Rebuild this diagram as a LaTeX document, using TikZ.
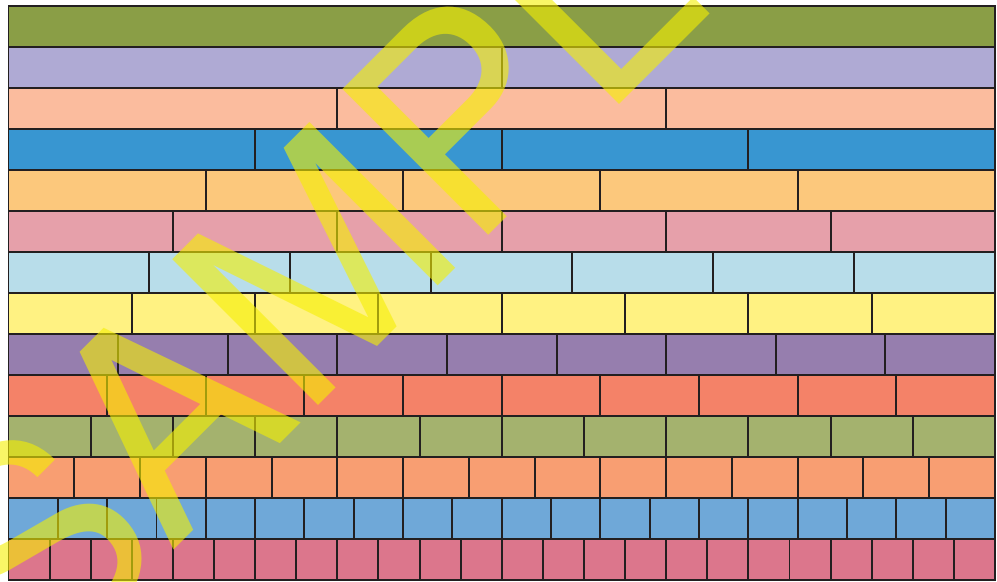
\documentclass[tikz,border=0pt]{standalone}
\usepackage{fontspec}
\newfontfamily\stampfont{TeX Gyre Heros}
\definecolor{wallline}{HTML}{231F20}
\definecolor{frac1}{HTML}{8A9E46}
\definecolor{frac2}{HTML}{AFAAD4}
\definecolor{frac3}{HTML}{FBBC9E}
\definecolor{frac4}{HTML}{3896D1}
\definecolor{frac5}{HTML}{FCC87C}
\definecolor{frac6}{HTML}{E6A0AA}
\definecolor{frac7}{HTML}{B8DDEA}
\definecolor{frac8}{HTML}{FFF282}
\definecolor{frac9}{HTML}{967EAE}
\definecolor{frac10}{HTML}{F48268}
\definecolor{frac12}{HTML}{A4B26E}
\definecolor{frac15}{HTML}{F89E72}
\definecolor{frac20}{HTML}{6FA8D8}
\definecolor{frac24}{HTML}{DC768C}
\definecolor{stampyellow}{HTML}{F5F000}
\tikzset{joint/.style={draw=wallline,line width=1.1pt}}

\begin{document}
\begin{tikzpicture}
\useasboundingbox (-0.17,0.12) rectangle (19.77,-11.50);
\fill[frac1] (0,0.000) rectangle (19.730,-0.820);
\fill[frac2] (0,-0.820) rectangle (19.730,-1.640);
\fill[frac3] (0,-1.640) rectangle (19.730,-2.460);
\fill[frac4] (0,-2.460) rectangle (19.730,-3.280);
\fill[frac5] (0,-3.280) rectangle (19.730,-4.100);
\fill[frac6] (0,-4.100) rectangle (19.730,-4.920);
\fill[frac7] (0,-4.920) rectangle (19.730,-5.740);
\fill[frac8] (0,-5.740) rectangle (19.730,-6.560);
\fill[frac9] (0,-6.560) rectangle (19.730,-7.380);
\fill[frac10] (0,-7.380) rectangle (19.730,-8.200);
\fill[frac12] (0,-8.200) rectangle (19.730,-9.020);
\fill[frac15] (0,-9.020) rectangle (19.730,-9.840);
\fill[frac20] (0,-9.840) rectangle (19.730,-10.660);
\fill[frac24] (0,-10.660) rectangle (19.730,-11.480);
\draw[joint] (9.865,-0.820) -- (9.865,-1.640);
\draw[joint] (6.577,-1.640) -- (6.577,-2.460) (13.153,-1.640) -- (13.153,-2.460);
\draw[joint] (4.933,-2.460) -- (4.933,-3.280) (9.865,-2.460) -- (9.865,-3.280) (14.798,-2.460) -- (14.798,-3.280);
\draw[joint] (3.946,-3.280) -- (3.946,-4.100) (7.892,-3.280) -- (7.892,-4.100) (11.838,-3.280) -- (11.838,-4.100) (15.784,-3.280) -- (15.784,-4.100);
\draw[joint] (3.288,-4.100) -- (3.288,-4.920) (6.577,-4.100) -- (6.577,-4.920) (9.865,-4.100) -- (9.865,-4.920) (13.153,-4.100) -- (13.153,-4.920) (16.442,-4.100) -- (16.442,-4.920);
\draw[joint] (2.819,-4.920) -- (2.819,-5.740) (5.637,-4.920) -- (5.637,-5.740) (8.456,-4.920) -- (8.456,-5.740) (11.274,-4.920) -- (11.274,-5.740) (14.093,-4.920) -- (14.093,-5.740) (16.911,-4.920) -- (16.911,-5.740);
\draw[joint] (2.466,-5.740) -- (2.466,-6.560) (4.933,-5.740) -- (4.933,-6.560) (7.399,-5.740) -- (7.399,-6.560) (9.865,-5.740) -- (9.865,-6.560) (12.331,-5.740) -- (12.331,-6.560) (14.798,-5.740) -- (14.798,-6.560) (17.264,-5.740) -- (17.264,-6.560);
\draw[joint] (2.192,-6.560) -- (2.192,-7.380) (4.384,-6.560) -- (4.384,-7.380) (6.577,-6.560) -- (6.577,-7.380) (8.769,-6.560) -- (8.769,-7.380) (10.961,-6.560) -- (10.961,-7.380) (13.153,-6.560) -- (13.153,-7.380) (15.346,-6.560) -- (15.346,-7.380) (17.538,-6.560) -- (17.538,-7.380);
\draw[joint] (1.973,-7.380) -- (1.973,-8.200) (3.946,-7.380) -- (3.946,-8.200) (5.919,-7.380) -- (5.919,-8.200) (7.892,-7.380) -- (7.892,-8.200) (9.865,-7.380) -- (9.865,-8.200) (11.838,-7.380) -- (11.838,-8.200) (13.811,-7.380) -- (13.811,-8.200) (15.784,-7.380) -- (15.784,-8.200) (17.757,-7.380) -- (17.757,-8.200);
\draw[joint] (1.644,-8.200) -- (1.644,-9.020) (3.288,-8.200) -- (3.288,-9.020) (4.933,-8.200) -- (4.933,-9.020) (6.577,-8.200) -- (6.577,-9.020) (8.221,-8.200) -- (8.221,-9.020) (9.865,-8.200) -- (9.865,-9.020) (11.509,-8.200) -- (11.509,-9.020) (13.153,-8.200) -- (13.153,-9.020) (14.798,-8.200) -- (14.798,-9.020) (16.442,-8.200) -- (16.442,-9.020) (18.086,-8.200) -- (18.086,-9.020);
\draw[joint] (1.315,-9.020) -- (1.315,-9.840) (2.631,-9.020) -- (2.631,-9.840) (3.946,-9.020) -- (3.946,-9.840) (5.261,-9.020) -- (5.261,-9.840) (6.577,-9.020) -- (6.577,-9.840) (7.892,-9.020) -- (7.892,-9.840) (9.207,-9.020) -- (9.207,-9.840) (10.523,-9.020) -- (10.523,-9.840) (11.838,-9.020) -- (11.838,-9.840) (13.153,-9.020) -- (13.153,-9.840) (14.469,-9.020) -- (14.469,-9.840) (15.784,-9.020) -- (15.784,-9.840) (17.099,-9.020) -- (17.099,-9.840) (18.415,-9.020) -- (18.415,-9.840);
\draw[joint] (0.987,-9.840) -- (0.987,-10.660) (1.973,-9.840) -- (1.973,-10.660) (2.960,-9.840) -- (2.960,-10.660) (3.946,-9.840) -- (3.946,-10.660) (4.933,-9.840) -- (4.933,-10.660) (5.919,-9.840) -- (5.919,-10.660) (6.906,-9.840) -- (6.906,-10.660) (7.892,-9.840) -- (7.892,-10.660) (8.879,-9.840) -- (8.879,-10.660) (9.865,-9.840) -- (9.865,-10.660);
\draw[joint] (10.852,-9.840) -- (10.852,-10.660) (11.838,-9.840) -- (11.838,-10.660) (12.825,-9.840) -- (12.825,-10.660) (13.811,-9.840) -- (13.811,-10.660) (14.798,-9.840) -- (14.798,-10.660) (15.784,-9.840) -- (15.784,-10.660) (16.771,-9.840) -- (16.771,-10.660) (17.757,-9.840) -- (17.757,-10.660) (18.744,-9.840) -- (18.744,-10.660);
\draw[joint] (0.822,-10.660) -- (0.822,-11.480) (1.644,-10.660) -- (1.644,-11.480) (2.466,-10.660) -- (2.466,-11.480) (3.288,-10.660) -- (3.288,-11.480) (4.110,-10.660) -- (4.110,-11.480) (4.933,-10.660) -- (4.933,-11.480) (5.755,-10.660) -- (5.755,-11.480) (6.577,-10.660) -- (6.577,-11.480) (7.399,-10.660) -- (7.399,-11.480) (8.221,-10.660) -- (8.221,-11.480) (9.043,-10.660) -- (9.043,-11.480) (9.865,-10.660) -- (9.865,-11.480);
\draw[joint] (10.687,-10.660) -- (10.687,-11.480) (11.509,-10.660) -- (11.509,-11.480) (12.331,-10.660) -- (12.331,-11.480) (13.153,-10.660) -- (13.153,-11.480) (13.975,-10.660) -- (13.975,-11.480) (14.798,-10.660) -- (14.798,-11.480) (15.620,-10.660) -- (15.620,-11.480) (16.442,-10.660) -- (16.442,-11.480) (17.264,-10.660) -- (17.264,-11.480) (18.086,-10.660) -- (18.086,-11.480) (18.908,-10.660) -- (18.908,-11.480);
\draw[joint] (0,-0.820) -- (19.730,-0.820) (0,-1.640) -- (19.730,-1.640) (0,-2.460) -- (19.730,-2.460) (0,-3.280) -- (19.730,-3.280) (0,-4.100) -- (19.730,-4.100) (0,-4.920) -- (19.730,-4.920) (0,-5.740) -- (19.730,-5.740);
\draw[joint] (0,-6.560) -- (19.730,-6.560) (0,-7.380) -- (19.730,-7.380) (0,-8.200) -- (19.730,-8.200) (0,-9.020) -- (19.730,-9.020) (0,-9.840) -- (19.730,-9.840) (0,-10.660) -- (19.730,-10.660);
\draw[joint] (0,0) rectangle (19.730,-11.480);
\node[inner sep=0,anchor=base west,rotate=45,text=stampyellow,text opacity=0.6,font=\stampfont\fontsize{161}{161}\selectfont] (sample) at (0.64,-13.55) {SAMPLE};
\end{tikzpicture}
\end{document}
